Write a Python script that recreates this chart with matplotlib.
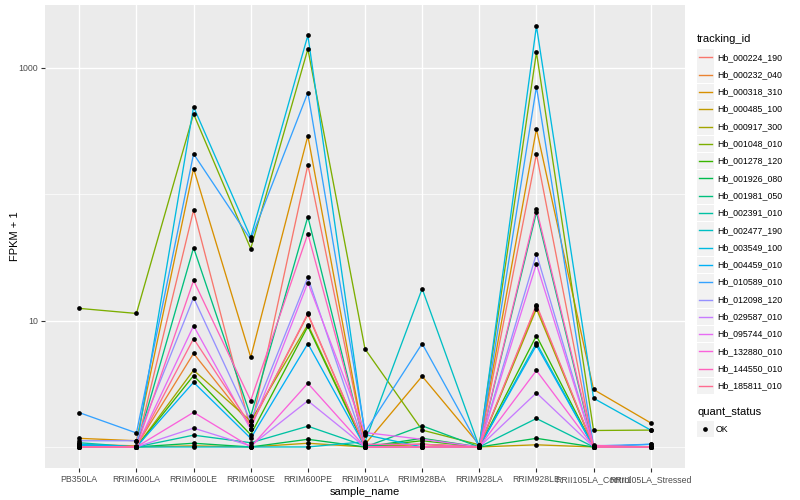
import numpy as np
import matplotlib
matplotlib.use("Agg")
import matplotlib.pyplot as plt
from matplotlib.patches import Rectangle
from matplotlib.lines import Line2D

plt.rcParams['font.family'] = ['Liberation Sans', 'DejaVu Sans']

samples = ['PB350LA', 'RRIM600LA', 'RRIM600LE', 'RRIM600SE', 'RRIM600PE', 'RRIM901LA',
           'RRIM928BA', 'RRIM928LA', 'RRIM928LE', 'RRII105LA_Control', 'RRII105LA_Stressed']

tracking_ids = ['Hb_000224_190', 'Hb_000232_040', 'Hb_000318_310', 'Hb_000485_100',
                'Hb_000917_300', 'Hb_001048_010', 'Hb_001278_120', 'Hb_001926_080',
                'Hb_001981_050', 'Hb_002391_010', 'Hb_002477_190', 'Hb_003549_100',
                'Hb_004459_010', 'Hb_010589_010', 'Hb_012098_120', 'Hb_029587_010',
                'Hb_095744_010', 'Hb_132880_010', 'Hb_144550_010', 'Hb_185811_010']

# FPKM + 1, one list per gene, in sample order
hb_000224_190 = [1.02, 1.0, 75, 1.38, 171, 1.05, 1.0, 1.0, 208, 1.0, 1.0]
hb_000232_040 = [1.05, 1.02, 5.5, 1.48, 11.2, 1.0, 1.05, 1.0, 12.96, 1.0, 1.0]
hb_000318_310 = [1.17, 1.12, 160, 5.13, 290, 1.05, 3.63, 1.04, 329, 2.85, 1.55]
hb_000485_100 = [1.0, 1.0, 1.02, 1.0, 1.07, 1.0, 1.0, 1.0, 1.04, 1.0, 1.0]
hb_000917_300 = [1.03, 1.0, 4.05, 1.6, 9.3, 1.02, 1.05, 1.0, 12.4, 1.0, 1.0]
hb_001048_010 = [12.5, 11.4, 433, 37.1, 1413, 5.97, 1.36, 1.04, 1331, 1.35, 1.36]
hb_001278_120 = [1.0, 1.0, 3.67, 1.25, 9.0, 1.0, 1.12, 1.0, 7.6, 1.0, 1.0]
hb_001926_080 = [1.0, 1.0, 1.07, 1.0, 1.15, 1.0, 1.17, 1.0, 1.17, 1.0, 1.0]
hb_001981_050 = [1.0, 1.0, 37.8, 1.75, 66.4, 1.0, 1.47, 1.0, 72, 1.0, 1.0]
hb_002391_010 = [1.08, 1.0, 1.24, 1.08, 1.46, 1.02, 1.0, 1.0, 1.68, 1.0, 1.0]
hb_002477_190 = [1.0, 1.0, 1.0, 1.0, 1.0, 1.1, 17.9, 1.0, 6.66, 1.0, 1.0]
hb_003549_100 = [1.03, 1.0, 492, 45.6, 1813, 1.25, 1.0, 1.0, 2148, 2.43, 1.36]
hb_004459_010 = [1.05, 1.0, 3.25, 1.17, 6.58, 1.0, 1.0, 1.0, 6.38, 1.0, 1.05]
hb_010589_010 = [1.87, 1.29, 209, 43.7, 638, 1.31, 6.58, 1.0, 711, 1.02, 1.05]
hb_012098_120 = [1.12, 1.12, 15.2, 1.6, 22.0, 1.0, 1.0, 1.0, 33.9, 1.0, 1.0]
hb_029587_010 = [1.0, 1.0, 1.41, 1.02, 2.32, 1.0, 1.0, 1.0, 2.68, 1.0, 1.0]
hb_095744_010 = [1.0, 1.0, 9.1, 1.38, 20.0, 1.3, 1.15, 1.0, 28.2, 1.0, 1.0]
hb_132880_010 = [1.0, 1.0, 1.88, 1.0, 3.19, 1.0, 1.0, 1.0, 4.03, 1.0, 1.0]
hb_144550_010 = [1.0, 1.0, 20.8, 2.33, 48.7, 1.05, 1.05, 1.0, 77, 1.03, 1.0]
hb_185811_010 = [1.0, 1.0, 7.2, 1.48, 11.4, 1.0, 1.0, 1.0, 13.4, 1.0, 1.0]

series = [hb_000224_190, hb_000232_040, hb_000318_310, hb_000485_100, hb_000917_300,
          hb_001048_010, hb_001278_120, hb_001926_080, hb_001981_050, hb_002391_010,
          hb_002477_190, hb_003549_100, hb_004459_010, hb_010589_010, hb_012098_120,
          hb_029587_010, hb_095744_010, hb_132880_010, hb_144550_010, hb_185811_010]

# ggplot hue palette for 20 groups
colors = ["#F8766D", "#EA8331", "#D89000", "#C09B00", "#A3A500", "#7CAE00", "#39B600",
          "#00BB4E", "#00BF7D", "#00C1A3", "#00BFC4", "#00BAE0", "#00B0F6", "#35A2FF",
          "#9590FF", "#C77CFF", "#E76BF3", "#FA62DB", "#FF62BC", "#FF6C91"]

W, H = 800, 500
fig = plt.figure(figsize=(8, 5), dpi=100)
ax = fig.add_axes([45 / W, 1 - 468 / H, 640 / W, 463 / H])
ax.set_facecolor('#EBEBEB')
for s in ax.spines.values():
    s.set_visible(False)

x = np.arange(len(samples))
for vals, c in zip(series, colors):
    ax.plot(x, vals, color=c, lw=0.95, zorder=3)
for vals in series:
    ax.plot(x, vals, 'o', color='black', ms=3.4, mew=0, zorder=4)

ax.set_yscale('log')
allv = np.log10(np.concatenate([np.array(v, dtype=float) for v in series]))
lo, hi = allv.min(), allv.max()
pad = 0.05 * (hi - lo)
ax.set_ylim(10 ** (lo - pad), 10 ** (hi + pad))
ax.set_xlim(-0.6, len(samples) - 0.4)

ax.set_yticks([10, 1000])
ax.set_yticklabels(['10', '1000'])
ax.yaxis.set_minor_locator(matplotlib.ticker.FixedLocator([1, 100]))
ax.yaxis.set_minor_formatter(matplotlib.ticker.NullFormatter())
ax.set_xticks(x)
ax.set_xticklabels(samples)
ax.tick_params(axis='both', which='major', length=3, width=0.8, color='#333333',
               labelsize=6.3, labelcolor='#4D4D4D', pad=2)
ax.tick_params(axis='y', which='minor', length=0)
ax.grid(True, which='major', color='white', lw=1.0, zorder=0)
ax.grid(True, which='minor', axis='y', color='white', lw=0.5, zorder=0)
ax.set_axisbelow(True)

ax.set_xlabel('sample_name', fontsize=8, labelpad=2)
ax.set_ylabel('FPKM + 1', fontsize=8, labelpad=-1)


def fx(px):
    return px / W


def fy(py):
    return 1 - py / H


# legend: tracking_id
fig.text(fx(697), fy(39), 'tracking_id', fontsize=8, va='center', ha='left')
for i, (name, c) in enumerate(zip(tracking_ids, colors)):
    yc = 57.3 + i * 17.3
    fig.add_artist(Rectangle((fx(697), fy(yc + 8.3)), 16.5 / W, 16.6 / H,
                             transform=fig.transFigure, facecolor='#F2F2F2', edgecolor='none'))
    fig.add_artist(Line2D([fx(698.5), fx(712)], [fy(yc), fy(yc)], transform=fig.transFigure,
                          color=c, lw=1.0))
    fig.text(fx(717), fy(yc), name, fontsize=6.3, va='center', ha='left')

# legend: quant_status
fig.text(fx(697), fy(412), 'quant_status', fontsize=8, va='center', ha='left')
fig.add_artist(Rectangle((fx(697), fy(429 + 8.3)), 16.5 / W, 16.6 / H,
                         transform=fig.transFigure, facecolor='#F2F2F2', edgecolor='none'))
fig.add_artist(Line2D([fx(705)], [fy(429)], transform=fig.transFigure, marker='o',
                      color='black', ms=3.4, mew=0, lw=0))
fig.text(fx(716), fy(429), 'OK', fontsize=6.3, va='center', ha='left')

plt.savefig('out.png', dpi=100)
